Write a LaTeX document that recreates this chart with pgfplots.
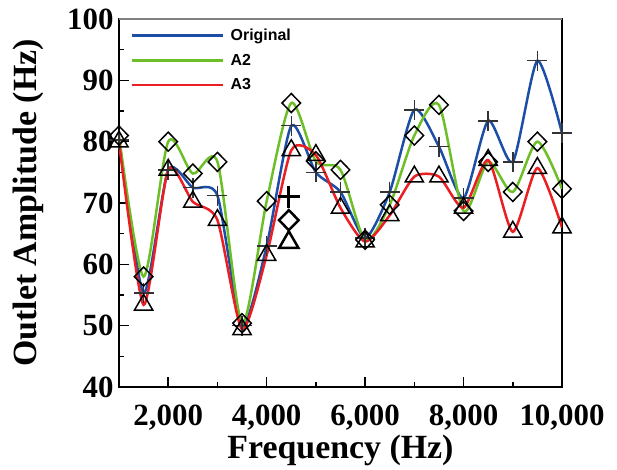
\documentclass[border=0pt]{standalone}
\usepackage{fontspec}
\setmainfont{Liberation Serif}
\newfontfamily\legfont{Liberation Sans}
\usepackage{pgfplots}
\usepackage{pgfplotstable}
\pgfplotsset{compat=1.18}

\definecolor{cOrig}{RGB}{28,78,168}
\definecolor{cAtwo}{RGB}{110,190,40}
\definecolor{cAthree}{RGB}{235,30,35}

% frequency, original, A2, A3
\pgfplotstableread{
x     orig  atwo  athree
1000  80.3  81.0  80.0
1500  55.3  58.0  53.4
2000  75.4  80.0  75.4
2500  72.5  74.8  70.2
3000  71.2  76.7  67.2
3500  50.0  50.4  49.4
4000  63.0  70.3  61.5
4500  82.6  86.3  78.6
5000  75.0  76.8  77.8
5500  71.8  75.4  69.2
6000  64.3  64.0  63.7
6500  71.8  69.7  68.0
7000  85.2  81.0  74.3
7500  79.2  86.0  74.3
8000  70.8  68.7  69.2
8500  83.4  76.7  77.0
9000  76.7  71.8  65.3
9500  93.2  80.0  75.7
10000 81.4  72.3  66.0
}\datatab

\begin{document}
\begin{tikzpicture}
\begin{axis}[
    scale only axis,
    width=443bp, height=368bp,
    xmin=1000, xmax=10000, ymin=40, ymax=100,
    xtick={2000,4000,6000,8000,10000},
    minor xtick={3000,5000,7000,9000},
    ytick={40,50,...,100},
    minor ytick={45,55,...,95},
    xtick pos=bottom, ytick pos=left,
    tick align=inside,
    major tick length=10bp, minor tick length=5bp,
    every tick/.style={black, line width=1.5bp},
    scaled x ticks=false,
    /pgf/number format/assume math mode=true,
    /pgf/number format/1000 sep={,},
    ticklabel style={font=\fontsize{31}{31}\selectfont\bfseries},
    xticklabel style={anchor=base, yshift=-38bp},
    yticklabel style={anchor=east, xshift=-2bp},
    label style={font=\fontsize{34}{34}\selectfont\bfseries},
    xlabel={Frequency (Hz)},
    ylabel={Outlet Amplitude (Hz)},
    xlabel style={at={(axis description cs:0.5,-0.193)}, anchor=base},
    ylabel style={at={(axis description cs:-0.2054,0.5)}, anchor=center},
    axis line style={line width=1.2bp},
    legend image code/.code={\draw[#1] (0bp,0bp) -- (91bp,0bp); \path (95bp,0bp);},
    legend style={draw=none, fill=none, at={(axis description cs:0,1)}, anchor=north west,
        xshift=9bp, yshift=-6bp, font=\legfont\bfseries\fontsize{16}{16}\selectfont,
        row sep=8bp, legend cell align=left},
  ]
  \addlegendimage{cOrig, line width=2.5bp}
  \addlegendimage{cAtwo, line width=2.5bp}
  \addlegendimage{cAthree, line width=2.5bp}

  \addplot[forget plot, cOrig, line width=2.5bp, smooth, tension=0.4, mark=+, mark size=10bp,
      mark options={black!80, line width=1.5bp}] table[x=x, y=orig] {\datatab};
  \addplot[forget plot, cAtwo, line width=2.5bp, smooth, tension=0.45, mark=diamond, mark size=9.5bp,
      mark options={black, line width=1.5bp, xscale=1.3}] table[x=x, y=atwo] {\datatab};
  \addplot[forget plot, cAthree, line width=2.5bp, smooth, tension=0.4, mark=triangle, mark size=10.5bp,
      mark options={black, line width=1.5bp}] table[x=x, y=athree] {\datatab};

  % stray legend markers
  \addplot[forget plot, only marks, mark=+, mark size=11bp, mark options={black, line width=3bp}]
      coordinates {(4450,71)};
  \addplot[forget plot, only marks, mark=diamond, mark size=10bp, mark options={black, line width=2.5bp, xscale=1.3}]
      coordinates {(4450,67.2)};
  \addplot[forget plot, only marks, mark=triangle, mark size=11bp, mark options={black, line width=2.5bp}]
      coordinates {(4450,63.6)};

  \draw[gray, line width=1.5bp] (rel axis cs:0,1) -- (rel axis cs:1,1);
  \draw[black, line width=3bp] (rel axis cs:0,0) -- (rel axis cs:1,0);

  \legend{Original, A2, A3}
\end{axis}
\path (current axis.south west) ++(-119bp,-83bp) rectangle ++(617bp,470bp);
\end{tikzpicture}
\end{document}
